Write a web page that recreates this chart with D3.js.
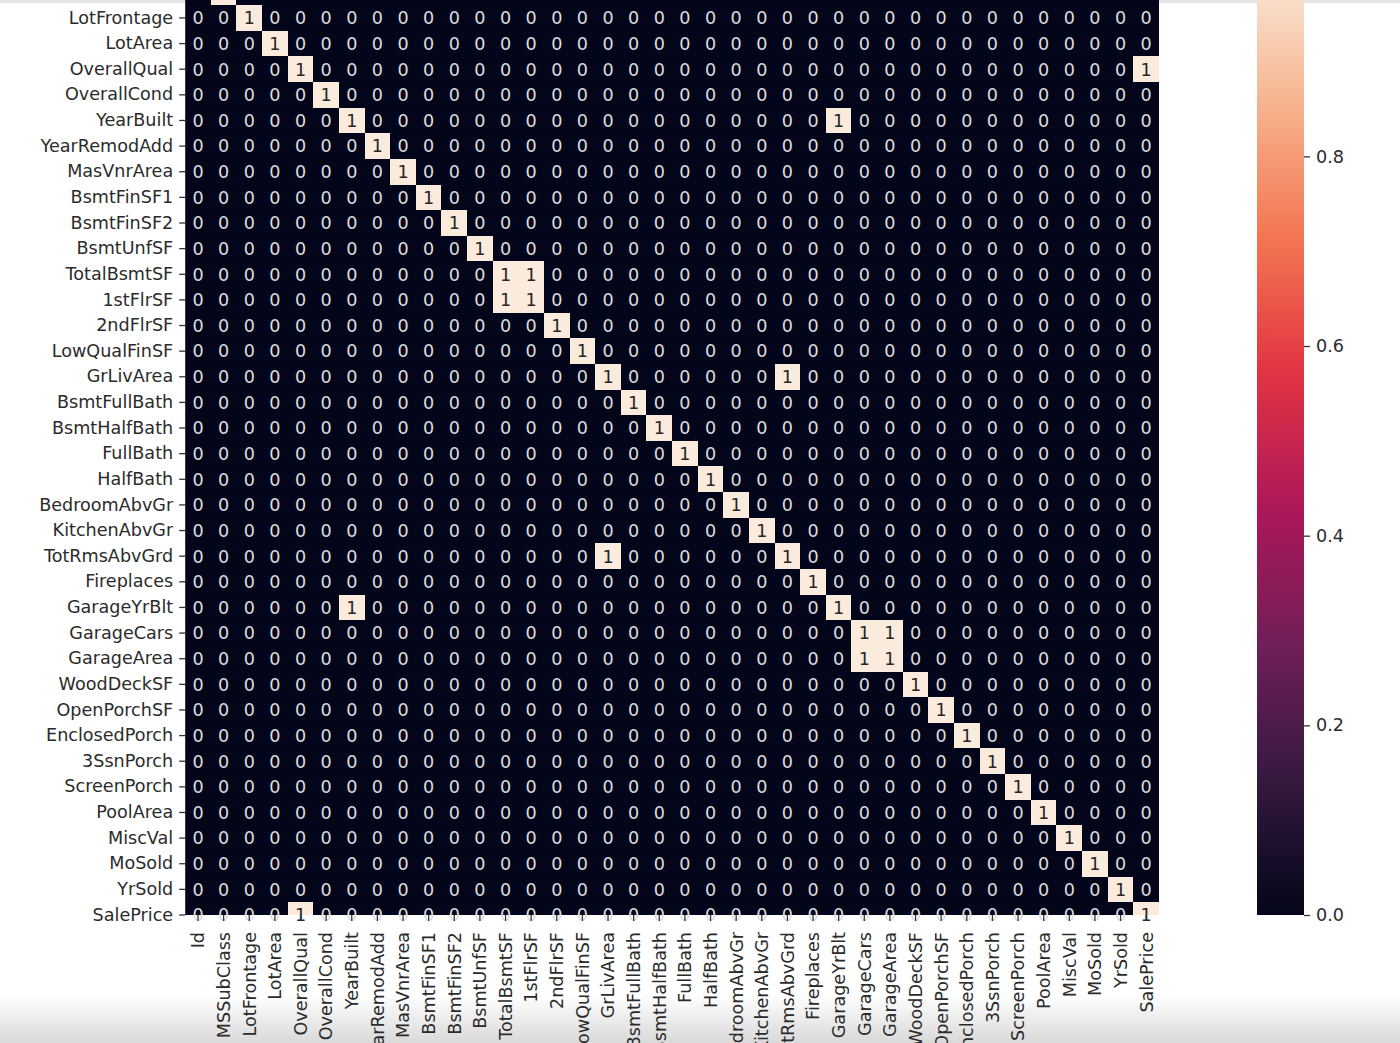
<!DOCTYPE html>
<html>
<head>
<meta charset="utf-8">
<script src="https://cdn.jsdelivr.net/npm/d3@7"></script>
<style>
  html, body { margin: 0; padding: 0; background: #ffffff; }
  svg { display: block; }
  text { font-family: "DejaVu Sans", sans-serif; }
</style>
</head>
<body>
<svg id="chart" width="1400" height="1043"></svg>
<script>
// ---- data ----
const features = [
  "Id", "MSSubClass", "LotFrontage", "LotArea", "OverallQual", "OverallCond",
  "YearBuilt", "YearRemodAdd", "MasVnrArea", "BsmtFinSF1", "BsmtFinSF2",
  "BsmtUnfSF", "TotalBsmtSF", "1stFlrSF", "2ndFlrSF", "LowQualFinSF",
  "GrLivArea", "BsmtFullBath", "BsmtHalfBath", "FullBath", "HalfBath",
  "BedroomAbvGr", "KitchenAbvGr", "TotRmsAbvGrd", "Fireplaces", "GarageYrBlt",
  "GarageCars", "GarageArea", "WoodDeckSF", "OpenPorchSF", "EnclosedPorch",
  "3SsnPorch", "ScreenPorch", "PoolArea", "MiscVal", "MoSold", "YrSold", "SalePrice"
];

// one string per row (|corr| > 0.8 flag), groups of 10 columns separated by spaces
const matrixRows = [
  "1000000000 0000000000 0000000000 00000000", // Id
  "0100000000 0000000000 0000000000 00000000", // MSSubClass
  "0010000000 0000000000 0000000000 00000000", // LotFrontage
  "0001000000 0000000000 0000000000 00000000", // LotArea
  "0000100000 0000000000 0000000000 00000001", // OverallQual
  "0000010000 0000000000 0000000000 00000000", // OverallCond
  "0000001000 0000000000 0000010000 00000000", // YearBuilt
  "0000000100 0000000000 0000000000 00000000", // YearRemodAdd
  "0000000010 0000000000 0000000000 00000000", // MasVnrArea
  "0000000001 0000000000 0000000000 00000000", // BsmtFinSF1
  "0000000000 1000000000 0000000000 00000000", // BsmtFinSF2
  "0000000000 0100000000 0000000000 00000000", // BsmtUnfSF
  "0000000000 0011000000 0000000000 00000000", // TotalBsmtSF
  "0000000000 0011000000 0000000000 00000000", // 1stFlrSF
  "0000000000 0000100000 0000000000 00000000", // 2ndFlrSF
  "0000000000 0000010000 0000000000 00000000", // LowQualFinSF
  "0000000000 0000001000 0001000000 00000000", // GrLivArea
  "0000000000 0000000100 0000000000 00000000", // BsmtFullBath
  "0000000000 0000000010 0000000000 00000000", // BsmtHalfBath
  "0000000000 0000000001 0000000000 00000000", // FullBath
  "0000000000 0000000000 1000000000 00000000", // HalfBath
  "0000000000 0000000000 0100000000 00000000", // BedroomAbvGr
  "0000000000 0000000000 0010000000 00000000", // KitchenAbvGr
  "0000000000 0000001000 0001000000 00000000", // TotRmsAbvGrd
  "0000000000 0000000000 0000100000 00000000", // Fireplaces
  "0000001000 0000000000 0000010000 00000000", // GarageYrBlt
  "0000000000 0000000000 0000001100 00000000", // GarageCars
  "0000000000 0000000000 0000001100 00000000", // GarageArea
  "0000000000 0000000000 0000000010 00000000", // WoodDeckSF
  "0000000000 0000000000 0000000001 00000000", // OpenPorchSF
  "0000000000 0000000000 0000000000 10000000", // EnclosedPorch
  "0000000000 0000000000 0000000000 01000000", // 3SsnPorch
  "0000000000 0000000000 0000000000 00100000", // ScreenPorch
  "0000000000 0000000000 0000000000 00010000", // PoolArea
  "0000000000 0000000000 0000000000 00001000", // MiscVal
  "0000000000 0000000000 0000000000 00000100", // MoSold
  "0000000000 0000000000 0000000000 00000010", // YrSold
  "0000100000 0000000000 0000000000 00000001"  // SalePrice
];

const colorbarTicks = [0.0, 0.2, 0.4, 0.6, 0.8, 1.0];

// seaborn "rocket" colormap anchors
const rocketColors = ["#03051a", "#35193e", "#701f57", "#ad1759", "#e13342", "#f37651", "#f6b48f", "#faebdd"];

// ---- build cells ----
const cells = [];
matrixRows.forEach((row, i) => {
  const vals = row.replace(/\s+/g, "").split("").map(Number);
  vals.forEach((v, j) => cells.push({ row: features[i], col: features[j], value: v }));
});

// ---- layout ----
const svg = d3.select("#chart");
const axLeft = 185.2, axRight = 1159;
const axTop = -33.3, axBottom = 915;
const rowH = (axBottom - axTop) / (features.length - 1); // top & bottom rows are half-cut

const x = d3.scaleBand().domain(features).range([axLeft, axRight]);
const y = d3.scaleBand().domain(features).range([axTop - rowH / 2, axBottom + rowH / 2]);
const color = d3.scaleSequential(d3.piecewise(d3.interpolateRgb, rocketColors)).domain([0, 1]);

const FS = 17.6;
const textColor = "#2b2b2b";

// background artifacts (screen capture band)
const defs = svg.append("defs");
const bandGrad = defs.append("linearGradient").attr("id", "bandGrad").attr("x1", 0).attr("x2", 0).attr("y1", 0).attr("y2", 1);
bandGrad.append("stop").attr("offset", "0%").attr("stop-color", "#ffffff");
bandGrad.append("stop").attr("offset", "100%").attr("stop-color", "#d9d9d9");
svg.append("rect").attr("x", 0).attr("y", 995).attr("width", 1400).attr("height", 48).attr("fill", "url(#bandGrad)");
svg.append("rect").attr("x", 0).attr("y", 0).attr("width", 1400).attr("height", 3).attr("fill", "#e4e4e4");

defs.append("clipPath").attr("id", "axClip")
  .append("rect").attr("x", axLeft).attr("y", axTop).attr("width", axRight - axLeft).attr("height", axBottom - axTop);

// heatmap cells
svg.append("g").attr("clip-path", "url(#axClip)")
  .selectAll("rect").data(cells).join("rect")
  .attr("x", d => x(d.col))
  .attr("y", d => y(d.row))
  .attr("width", x.bandwidth() + 0.4)
  .attr("height", y.bandwidth() + 0.4)
  .attr("fill", d => color(d.value))
  .attr("shape-rendering", "crispEdges");

// annotations (rows whose centre lies above the visible page are not drawn)
svg.append("g").selectAll("text")
  .data(cells.filter(d => y(d.row) + y.bandwidth() / 2 > 0))
  .join("text")
  .attr("x", d => x(d.col) + x.bandwidth() / 2)
  .attr("y", d => y(d.row) + y.bandwidth() / 2)
  .attr("dy", "0.36em")
  .attr("text-anchor", "middle")
  .attr("font-size", FS)
  .attr("fill", d => d.value > 0.5 ? "#262626" : "#dcdcdf")
  .text(d => d3.format("d")(d.value));

// y axis
const yAxis = svg.append("g").attr("transform", `translate(${axLeft},0)`)
  .call(d3.axisLeft(y).tickSize(6).tickPadding(6));
yAxis.select(".domain").remove();
yAxis.selectAll(".tick").filter(d => y(d) + y.bandwidth() / 2 < 0).remove();
yAxis.selectAll("line").attr("stroke", "#333").attr("stroke-width", 1.3);
yAxis.selectAll("text").attr("font-size", FS).attr("fill", textColor).attr("font-family", "DejaVu Sans");

// x axis
const xAxis = svg.append("g").attr("transform", `translate(0,${axBottom})`)
  .call(d3.axisBottom(x).tickSize(6).tickPadding(6));
xAxis.select(".domain").remove();
xAxis.selectAll("line").attr("stroke", "#333").attr("stroke-width", 1.3);
xAxis.selectAll("text")
  .attr("font-size", FS).attr("fill", textColor).attr("font-family", "DejaVu Sans")
  .attr("text-anchor", "end")
  .attr("x", 0).attr("y", 0).attr("dy", "0.36em")
  .attr("transform", "translate(0,17) rotate(-90)");

// colorbar
const cbX = 1257, cbW = 47;
const cb = d3.scaleLinear().domain([0, 1]).range([axBottom, axTop]);
const cbGrad = defs.append("linearGradient").attr("id", "cbGrad")
  .attr("x1", 0).attr("x2", 0).attr("y1", 1).attr("y2", 0);
d3.range(0, 1.0001, 0.02).forEach(t => {
  cbGrad.append("stop").attr("offset", `${t * 100}%`).attr("stop-color", color(t));
});
svg.append("rect").attr("x", cbX).attr("y", cb(1)).attr("width", cbW).attr("height", cb(0) - cb(1))
  .attr("fill", "url(#cbGrad)");
const cbAxis = svg.append("g").attr("transform", `translate(${cbX + cbW},0)`)
  .call(d3.axisRight(cb).tickValues(colorbarTicks.filter(t => cb(t) > 0)).tickFormat(d3.format(".1f")).tickSize(6).tickPadding(6));
cbAxis.select(".domain").remove();
cbAxis.selectAll("line").attr("stroke", "#333").attr("stroke-width", 1.3);
cbAxis.selectAll("text").attr("font-size", FS).attr("fill", textColor).attr("font-family", "DejaVu Sans");
</script>
</body>
</html>
